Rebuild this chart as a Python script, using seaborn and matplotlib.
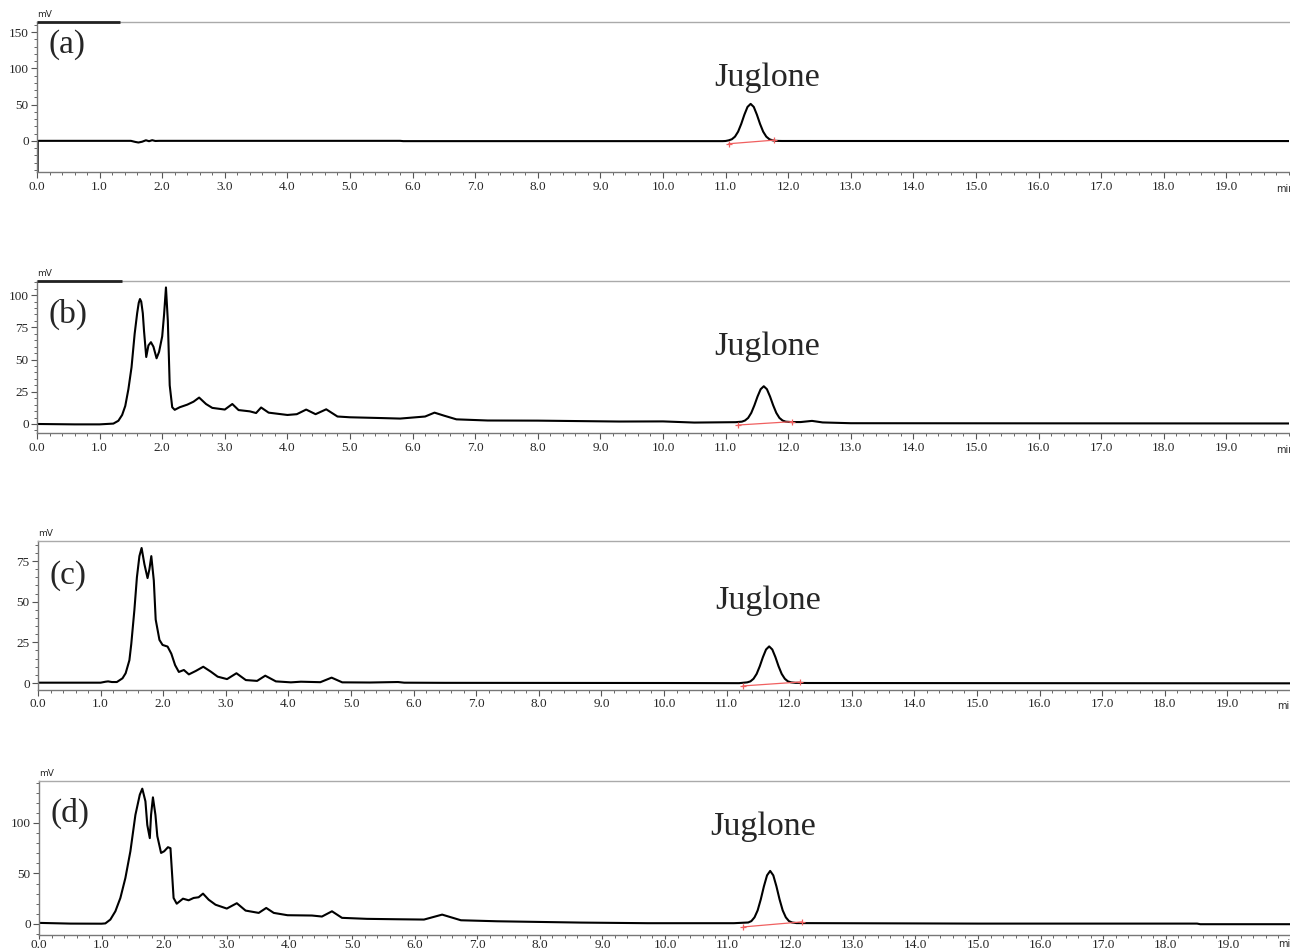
import numpy as np
import pandas as pd
import matplotlib.pyplot as plt
import seaborn as sns
from matplotlib.ticker import MultipleLocator, FixedLocator, FormatStrFormatter

## values (time in min, signal in mV)
a_time = [0.0, 0.010, 0.012, 1.50, 1.57, 1.62, 1.68, 1.74, 1.79, 1.84, 1.89, 1.95,
          5.80, 5.85, 10.95, 11.00, 11.05, 11.10, 11.15, 11.20, 11.25, 11.30, 11.35, 11.40,
          11.45, 11.50, 11.55, 11.60, 11.65, 11.70, 11.75, 11.80, 11.90, 20.0]
a_mv = [-43, -43, 0, 0, -1.5, -2.3, -1.2, 0.8, -0.5, 0.9, -0.2, 0,
        0, -0.4, -0.4, -0.2, 0.7, 2.2, 5.8, 12.7, 23.4, 36.1, 46.8, 51.0,
        46.8, 36.1, 23.4, 12.7, 5.8, 2.2, 0.7, 0.0, -0.2, -0.3]

b_time = [0.0, 0.6, 1.0, 1.22, 1.30, 1.36, 1.41, 1.46, 1.51, 1.56, 1.60, 1.625, 1.645,
          1.665, 1.69, 1.71, 1.745, 1.78, 1.82, 1.86, 1.91, 1.95, 2.00, 2.03, 2.06, 2.09,
          2.12, 2.16, 2.20, 2.28, 2.40, 2.50, 2.59, 2.70, 2.80, 3.00, 3.12, 3.22, 3.40,
          3.50, 3.58, 3.70, 3.90, 4.00, 4.15, 4.30, 4.45, 4.62, 4.80, 5.00, 5.50, 5.80,
          6.00, 6.20, 6.35, 6.50, 6.70, 7.20, 8.00, 9.30, 10.00, 10.50, 11.16, 11.26,
          11.31, 11.36, 11.41, 11.46, 11.51, 11.56, 11.61, 11.66, 11.71, 11.76, 11.81,
          11.86, 11.91, 11.96, 12.05, 12.20, 12.38, 12.55, 13.0, 16.0, 20.0]
b_mv = [0, -0.3, -0.3, 0.3, 2.5, 7, 14, 27, 44, 70, 86, 94, 97,
        95, 86, 72, 52, 61, 63.5, 60, 51, 56, 68, 85, 106, 80,
        30, 13, 11, 13, 15, 17.3, 20.5, 15.5, 12.5, 11.2, 15.5, 10.8, 9.8,
        8.5, 12.8, 8.8, 7.6, 7, 7.6, 11.2, 7.6, 11.4, 5.8, 5.2, 4.6, 4.2,
        5, 5.8, 8.8, 6.5, 3.6, 2.7, 2.6, 1.9, 2.0, 1.1, 1.4, 1.8,
        2.7, 4.7, 8.6, 14.5, 21.3, 27.0, 29.3, 27.0, 21.3, 14.5, 8.6,
        4.7, 2.7, 1.8, 1.5, 1.5, 2.4, 1.2, 0.6, 0.5, 0.4]

c_time = [0.0, 1.0, 1.08, 1.12, 1.18, 1.26, 1.35, 1.40, 1.46, 1.49, 1.54, 1.58, 1.62,
          1.655, 1.70, 1.75, 1.78, 1.81, 1.85, 1.88, 1.94, 1.99, 2.07, 2.13, 2.19, 2.25,
          2.33, 2.41, 2.52, 2.64, 2.76, 2.87, 3.02, 3.17, 3.32, 3.50, 3.63, 3.80, 4.04,
          4.20, 4.51, 4.69, 4.86, 5.30, 5.75, 5.85, 6.5, 10.0, 11.2, 11.33, 11.38, 11.43,
          11.48, 11.53, 11.58, 11.63, 11.68, 11.73, 11.78, 11.83, 11.88, 11.93, 11.98,
          12.03, 12.10, 12.30, 16.0, 20.0]
c_mv = [0.2, 0.2, 0.8, 1.0, 0.6, 0.6, 2.9, 6, 14, 24, 45, 65, 78,
        83, 73, 64.5, 70, 78, 63, 39, 26.5, 23.4, 22.4, 18, 11, 6.8,
        8, 5.3, 7.4, 10, 7, 3.9, 2.4, 6, 1.8, 1.3, 4.5, 1, 0.4,
        0.8, 0.5, 3.3, 0.4, 0.3, 0.6, 0.2, 0.1, 0, -0.1, 0.4, 1.0, 2.6,
        5.6, 10.3, 15.9, 20.6, 22.5, 20.6, 15.9, 10.3, 5.6, 2.6, 1.0,
        0.4, 0.1, 0, -0.1, -0.2]

d_time = [0.0, 0.5, 1.0, 1.06, 1.14, 1.22, 1.30, 1.38, 1.46, 1.54, 1.61, 1.65, 1.70,
          1.73, 1.77, 1.79, 1.82, 1.86, 1.89, 1.95, 2.00, 2.06, 2.10, 2.13, 2.15, 2.20,
          2.30, 2.39, 2.47, 2.55, 2.62, 2.71, 2.82, 3.00, 3.16, 3.30, 3.51, 3.63, 3.75,
          3.97, 4.36, 4.52, 4.68, 4.84, 5.24, 5.72, 6.15, 6.44, 6.74, 7.32, 8.66, 9.72,
          11.10, 11.33, 11.38, 11.43, 11.48, 11.53, 11.58, 11.63, 11.68, 11.73, 11.78,
          11.83, 11.88, 11.93, 11.98, 12.03, 12.10, 15.0, 18.5, 18.55, 20.0]
d_mv = [1.0, 0.3, 0.2, 0.5, 4.3, 12.5, 25.7, 45.5, 72, 108, 128, 134, 121.5,
        98, 85, 108, 125.4, 108, 87, 70.3, 72, 76, 75, 45.5, 25.7, 20,
        25, 23.4, 25.7, 26.4, 30, 24, 19, 15.2, 20.5, 13.2, 10.9, 15.8, 10.9,
        8.6, 8.3, 7.3, 12.5, 6, 5, 4.6, 4.3, 9.2, 3.6, 2.6, 1.3, 0.7,
        0.7, 1.4, 2.8, 6.5, 13.4, 24.3, 37.2, 48.1, 52.5, 48.1, 37.2,
        24.3, 13.4, 6.5, 2.8, 1.4, 0.8, 0.3, 0.3, -0.3, -0.3]

panel_labels = ["(a)", "(b)", "(c)", "(d)"]
traces = [(a_time, a_mv), (b_time, b_mv), (c_time, c_mv), (d_time, d_mv)]
## integration baselines (red) : start / end of the juglone peak
base_time = [(11.05, 11.78), (11.20, 12.06), (11.26, 12.17), (11.25, 12.19)]
base_mv = [(-4, 1), (-0.8, 1.8), (-1.8, 0.6), (-3, 2)]
y_limits = [(-43, 164), (-7, 111), (-4.3, 87.3), (-11, 141.6)]
y_major = [50, 25, 25, 50]
y_minor = [10, 5, 5, 10]
top_bar_end = [1.33, 1.36, None, None]
juglone_x = [11.67, 11.67, 11.67, 11.57]
x_ticks = [float(k) for k in range(20)]

## layout in pixels : (left, top, bottom) of each axes
px_box = [(37, 22, 172), (37, 281, 433), (38, 541, 690), (39, 781, 935)]
tick_pad = [2.5, 2.5, 2.0, 0.0]
tick_len = [4, 4, 4, 3]
label_y = [0.85, 0.78, 0.77, 0.79]
juglone_y = [0.63, 0.57, 0.60, 0.70]

W, H = 1290, 951
sns.set_theme(style="ticks")
plt.rcParams['font.family'] = ['Liberation Serif', 'DejaVu Serif']
fig = plt.figure(figsize=(W / 100, H / 100), dpi=100)

for i, (t, v) in enumerate(traces):
    left, top, bottom = px_box[i]
    ax = fig.add_axes([left / W, 1 - bottom / H, 20 * 62.6 / W, (bottom - top) / H])
    df = pd.DataFrame({"time": t, "mV": v})
    sns.lineplot(data=df, x="time", y="mV", ax=ax, color="black", linewidth=1.5,
                 estimator=None, sort=False)
    # red integration line
    ax.plot(base_time[i], base_mv[i], color="#f06060", linewidth=0.9)
    ax.plot(base_time[i][0], base_mv[i][0], marker="+", color="#f06060", ms=5, mew=0.9)
    ax.plot(base_time[i][1], base_mv[i][1], marker="+", color="#f06060", ms=5, mew=0.9)

    ax.xaxis.set_major_locator(FixedLocator(x_ticks))
    ax.xaxis.set_minor_locator(MultipleLocator(0.2))
    ax.xaxis.set_major_formatter(FormatStrFormatter("%.1f"))
    ax.yaxis.set_major_locator(MultipleLocator(y_major[i]))
    ax.yaxis.set_minor_locator(MultipleLocator(y_minor[i]))
    ax.set_xlim(0, 20)
    ax.set_ylim(*y_limits[i])
    if top_bar_end[i] is not None:
        ax.plot([0, top_bar_end[i]], [y_limits[i][1]] * 2, color="#222", lw=2.0,
                clip_on=False, solid_capstyle="butt", zorder=5)

    ax.tick_params(axis="both", which="major", direction="out", length=4, width=0.8,
                   color="#555", labelsize=9.5)
    ax.tick_params(axis="x", which="major", pad=tick_pad[i], length=tick_len[i])
    ax.tick_params(axis="y", which="major", pad=2)
    ax.tick_params(axis="both", which="minor", direction="out", length=2.5, width=0.7,
                   color="#666")
    ax.set_xlabel("")
    ax.set_ylabel("")
    for s in ["left", "bottom"]:
        ax.spines[s].set_color("#777")
        ax.spines[s].set_linewidth(1.0)
    ax.spines["top"].set_visible(True)
    ax.spines["top"].set_color("#aaa")
    ax.spines["top"].set_linewidth(1.0)
    ax.spines["right"].set_visible(False)

    ax.text(0.0, 1.02, "mV", transform=ax.transAxes, fontsize=6.5,
            family="DejaVu Sans", ha="left", va="bottom")
    ax.text(0.99, -0.11 if i < 3 else -0.06, "min", transform=ax.transAxes, fontsize=7,
            family="DejaVu Sans", ha="left", va="center", clip_on=False)
    ax.text(0.009, label_y[i], panel_labels[i], transform=ax.transAxes,
            fontsize=24, ha="left", va="center")
    ax.text(juglone_x[i], juglone_y[i], "Juglone",
            transform=ax.get_xaxis_transform(), fontsize=24.5, ha="center", va="center")

fig.savefig("out.png", dpi=100)
